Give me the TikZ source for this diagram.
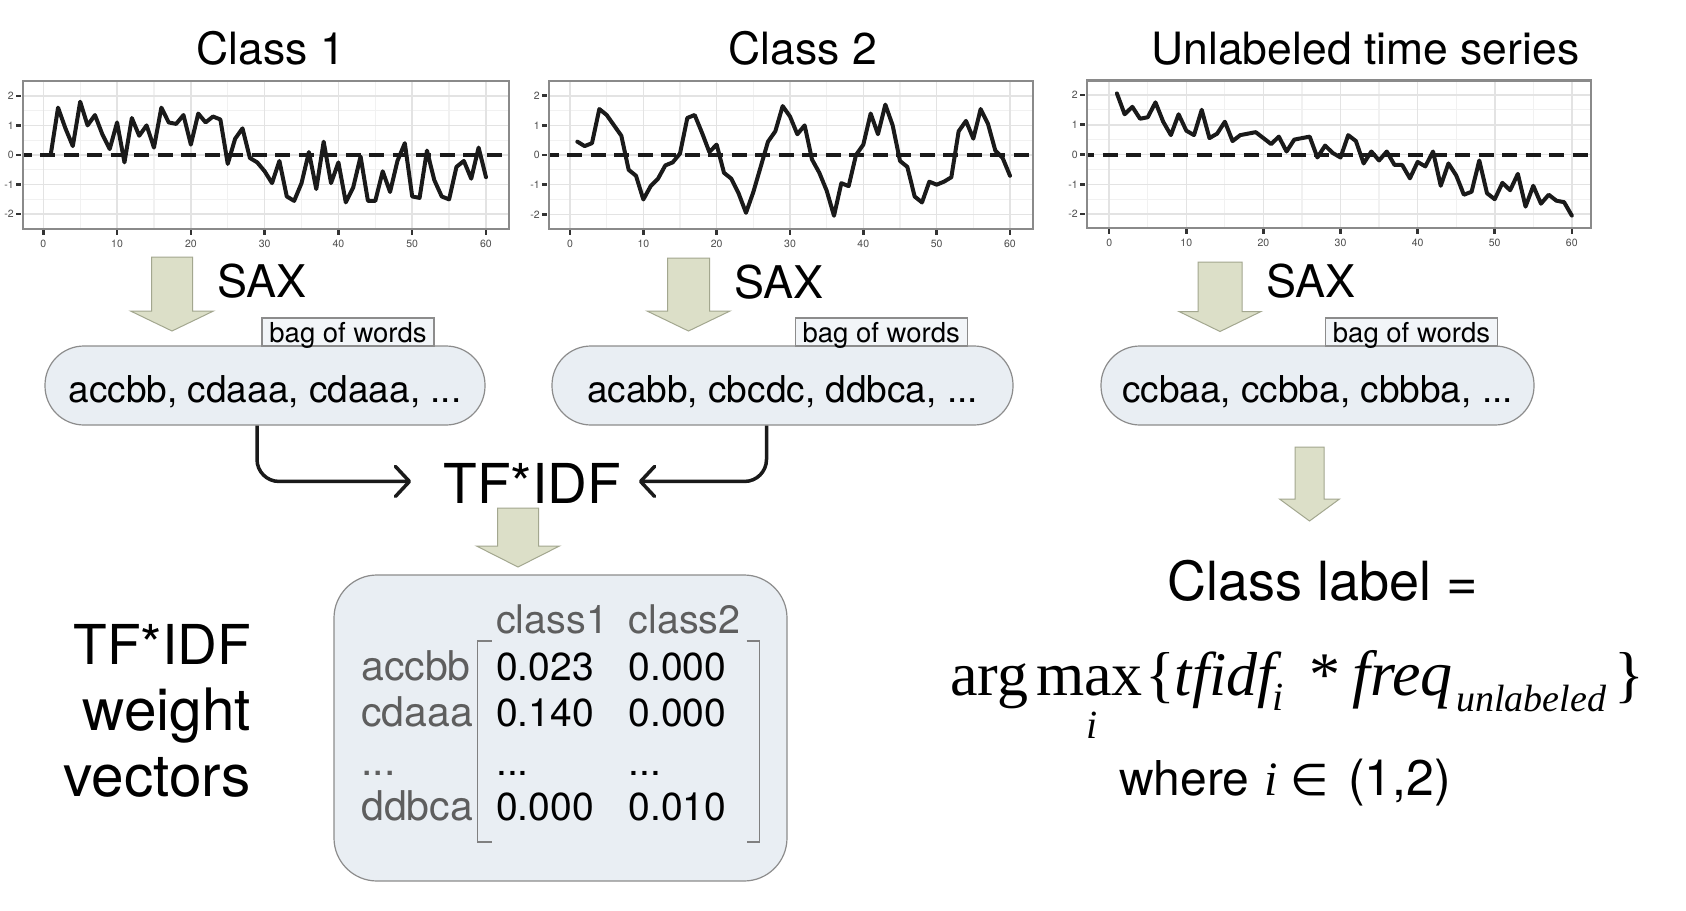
\documentclass[tikz,border=0pt]{standalone}
\usepackage{fontspec}
\setmainfont{TeX Gyre Heros}
\newfontfamily\timesfont{Liberation Serif}
\newfontfamily\dejafont{DejaVu Sans}
\usetikzlibrary{arrows.meta}

\definecolor{pillfill}{HTML}{E9EEF3}
\definecolor{pilldraw}{HTML}{8C8C8C}
\definecolor{arrfill}{HTML}{DCDFC8}
\definecolor{arrdraw}{HTML}{A3A78F}
\definecolor{gridmaj}{HTML}{E3E3E3}
\definecolor{gridmin}{HTML}{F1F1F1}
\definecolor{panelborder}{HTML}{8A8A8A}
\definecolor{axistext}{HTML}{4D4D4D}
\definecolor{labelgray}{HTML}{5E5E5E}
\definecolor{linedark}{HTML}{1A1A1A}

\newcommand\fsz[1]{\fontsize{#1}{#1}\selectfont}

\tikzset{
  pill/.style={draw=pilldraw, fill=pillfill, line width=1.2pt, rounded corners=39pt,
    inner sep=0pt, minimum height=79pt, font=\fsz{37}, text height=34pt, text depth=0pt},
  bagbox/.style={draw=pilldraw, fill=pillfill!60!white, line width=1.2pt, inner sep=0pt,
    minimum width=172pt, minimum height=28pt, font=\fsz{27.5}, text height=23pt, text depth=3pt},
  titletext/.style={font=\fsz{44.5}, anchor=base, inner sep=0pt},
  saxtext/.style={font=\fsz{45}, anchor=base west, inner sep=0pt},
  bigtext/.style={font=\fsz{55}, inner sep=0pt},
  matbox/.style={draw=pilldraw, fill=pillfill, line width=1.2pt, rounded corners=43pt, inner sep=0pt},
  mathead/.style={font=\fsz{39.5}, text=labelgray, anchor=base west, inner sep=0pt},
  matval/.style={font=\fsz{39}, anchor=base west, inner sep=0pt},
  matbracket/.style={draw=gray, line width=1.6pt},
  fatarrow/.style={fill=arrfill, draw=arrdraw, line width=1pt, line join=miter},
  conn/.style={draw=linedark, line width=3.5pt, rounded corners=22pt,
    -{Straight Barb[length=14pt,width=30pt,round]}},
  gridmajline/.style={draw=gridmaj, line width=1.6pt},
  gridminline/.style={draw=gridmin, line width=1.2pt},
  zeroline/.style={draw=linedark, line width=4pt, dash pattern=on 15pt off 8.5pt},
  tsline/.style={draw=linedark, line width=4pt, line join=round, line cap=round},
  panelframe/.style={draw=panelborder, line width=2.4pt},
  tickmark/.style={draw=black!80, line width=2.5pt},
  ticklabel/.style={font=\fsz{10.5}, text=axistext, inner sep=0pt},
  formtext/.style={font=\timesfont\fsz{62}, anchor=base west, inner sep=0pt},
  formsub/.style={font=\timesfont\itshape\fsz{40}, inner sep=0pt},
  sanstext/.style={font=\fsz{48}, anchor=base west, inner sep=0pt},
}

% #1 left #2 right #3 top #4 bottom #5 x0 #6 xs #7 y0 #8 ys #9 data
\newcommand\tspanel[9]{%
  \fill[white] (#1,#3) rectangle (#2,#4);
  \begin{scope}
    \clip (#1,#3) rectangle (#2,#4);
    \begin{scope}[shift={(#5,#7)}, x=#6pt, y=#8pt]
      \foreach \gx in {-5,5,...,65} \draw[gridminline] (\gx,-3) -- (\gx,3);
      \foreach \gv in {-2.5,-1.5,...,2.5} \draw[gridminline] (-10,\gv) -- (70,\gv);
      \foreach \gx in {0,10,...,60} \draw[gridmajline] (\gx,-3) -- (\gx,3);
      \foreach \gv in {-2,...,2} \draw[gridmajline] (-10,\gv) -- (70,\gv);
      \draw[zeroline] (-10,0) -- (70,0);
      \draw[tsline] plot coordinates {#9};
    \end{scope}
  \end{scope}
  \draw[panelframe] (#1,#3) rectangle (#2,#4);
  \begin{scope}[shift={(#1,#7)}, y=#8pt]
    \foreach \gv in {-2,...,2} {
      \draw[tickmark] (-7,\gv) -- (-2,\gv);
      \node[ticklabel, anchor=east] at (-9,\gv) {\gv};
    }
  \end{scope}
  \begin{scope}[shift={(#5,#4)}, x=#6pt]
    \foreach \gx in {0,10,...,60} {
      \draw[tickmark] (\gx,1) -- (\gx,6);
      \node[ticklabel] at (\gx,15) {\gx};
    }
  \end{scope}
}

% #1 cx #2 top #3 headtop #4 tip #5 shaft half #6 head half
\newcommand\fatdown[6]{%
  \filldraw[fatarrow] (#1-#5,#2) -- (#1+#5,#2) -- (#1+#5,#3) -- (#1+#6,#3)
    -- (#1,#4) -- (#1-#6,#3) -- (#1-#5,#3) -- cycle;
}

\begin{document}
\begin{tikzpicture}[x=1pt, y=-1pt]
\useasboundingbox (0,0) rectangle (1686,910);
\fill[white] (0,0) rectangle (1686,910);

% ---------- titles ----------
\node[titletext] (t1) at (271,64) {Class 1};
\node[titletext] (t2) at (803,64) {Class 2};
\node[titletext] (t3) at (1365.5,64) {Unlabeled time series};

% ---------- time series panels ----------
\tspanel{23}{509}{81}{229}{43.3}{7.378}{155}{29.6}{(1,0) (2,1.6) (3,0.9) (4,0.3) (5,1.8) (6,1.0) (7,1.35) (8,0.7) (9,0.2) (10,1.1) (11,-0.25) (12,1.25) (13,0.65) (14,1.0) (15,0.25) (16,1.6) (17,1.1) (18,1.05) (19,1.35) (20,0.35) (21,1.4) (22,1.1) (23,1.3) (24,1.2) (25,-0.3) (26,0.55) (27,0.9) (28,-0.1) (29,-0.25) (30,-0.55) (31,-0.95) (32,-0.2) (33,-1.4) (34,-1.55) (35,-0.95) (36,0.1) (37,-1.15) (38,0.45) (39,-0.95) (40,-0.25) (41,-1.6) (42,-1.1) (43,-0.05) (44,-1.55) (45,-1.55) (46,-0.55) (47,-1.25) (48,-0.2) (49,0.4) (50,-1.4) (51,-1.45) (52,0.15) (53,-0.85) (54,-1.4) (55,-1.5) (56,-0.4) (57,-0.2) (58,-0.8) (59,0.25) (60,-0.75)}

\tspanel{549}{1032.7}{81}{229}{570}{7.333}{155}{29.65}{(1,0.45) (2,0.3) (3,0.4) (4,1.55) (5,1.35) (6,1.0) (7,0.65) (8,-0.5) (9,-0.7) (10,-1.5) (11,-1.05) (12,-0.8) (13,-0.35) (14,-0.25) (15,0.05) (16,1.25) (17,1.35) (18,0.75) (19,0.1) (20,0.35) (21,-0.6) (22,-0.8) (23,-1.3) (24,-1.95) (25,-1.25) (26,-0.4) (27,0.45) (28,0.8) (29,1.65) (30,1.3) (31,0.7) (32,1.0) (33,-0.15) (34,-0.6) (35,-1.2) (36,-2.05) (37,-0.95) (38,-1.05) (39,0.0) (40,0.35) (41,1.4) (42,0.7) (43,1.7) (44,1.0) (45,-0.2) (46,-0.4) (47,-1.4) (48,-1.6) (49,-0.9) (50,-1.0) (51,-0.9) (52,-0.75) (53,0.8) (54,1.15) (55,0.55) (56,1.55) (57,1.05) (58,0.15) (59,-0.1) (60,-0.7)}

\tspanel{1087}{1591}{80.5}{228}{1109.2}{7.71}{154.5}{29.8}{(1,2.05) (2,1.35) (3,1.6) (4,1.2) (5,1.25) (6,1.75) (7,1.1) (8,0.65) (9,1.35) (10,0.8) (11,0.65) (12,1.5) (13,0.55) (14,0.7) (15,1.1) (16,0.45) (17,0.65) (18,0.7) (19,0.75) (20,0.55) (21,0.35) (22,0.6) (23,0.1) (24,0.5) (25,0.55) (26,0.6) (27,-0.1) (28,0.3) (29,0.05) (30,-0.1) (31,0.65) (32,0.45) (33,-0.3) (34,0.1) (35,-0.2) (36,0.1) (37,-0.35) (38,-0.35) (39,-0.8) (40,-0.25) (41,-0.4) (42,0.1) (43,-1.05) (44,-0.3) (45,-0.7) (46,-1.35) (47,-1.25) (48,-0.2) (49,-1.3) (50,-1.5) (51,-0.95) (52,-1.2) (53,-0.65) (54,-1.75) (55,-1.05) (56,-1.65) (57,-1.35) (58,-1.55) (59,-1.6) (60,-2.05)}

% ---------- SAX arrows ----------
\fatdown{172}{257}{311}{331}{20.5}{41.5}
\fatdown{688.5}{258}{311}{331}{21}{41.5}
\fatdown{1220}{262}{311.5}{331.5}{22}{41}
\node[saxtext] (sax1) at (217.5,297.7) {SAX};
\node[saxtext] (sax2) at (734,298) {SAX};
\node[saxtext] (sax3) at (1266,297) {SAX};

% ---------- bags of words ----------
\node[pill, minimum width=440pt] (bag1) at (265,385.5) {accbb, cdaaa, cdaaa, ...};
\node[pill, minimum width=461pt] (bag2) at (782.5,385.5) {acabb, cbcdc, ddbca, ...};
\node[pill, minimum width=433pt] (bag3) at (1317.5,385.5) {ccbaa, ccbba, cbbba, ...};
\node[bagbox] (bw1) at (348,332) {bag of words};
\node[bagbox] (bw2) at (881.2,332) {bag of words};
\node[bagbox] (bw3) at (1411.5,332) {bag of words};

% ---------- TF*IDF ----------
\node[bigtext, anchor=base] (tfidf) at (532,503) {TF*IDF};
\draw[conn] ([xshift=-8pt]bag1.south) |- ([xshift=-32pt,yshift=1.5pt]tfidf.west);
\draw[conn] ([xshift=-16pt]bag2.south) |- ([xshift=18pt,yshift=1.5pt]tfidf.east);
\fatdown{518}{508}{546}{567}{20.5}{41.5}

% ---------- weight table ----------
\node[matbox, minimum width=453pt, minimum height=306pt] (tbl) at (560.5,728) {};
\node[mathead] (h1) at (496,633) {class1};
\node[mathead] (h2) at (628.5,633) {class2};
\node[mathead, font=\fsz{41}] (r1) at (361,680) {accbb};
\node[mathead, font=\fsz{41}] (r2) at (361,726.7) {cdaaa};
\node[mathead, font=\fsz{41}] (r3) at (361,775) {...};
\node[mathead, font=\fsz{41}] (r4) at (361,820) {ddbca};
\node[matval] (v11) at (496,680) {0.023};
\node[matval] (v12) at (628.5,680) {0.000};
\node[matval] (v21) at (496,726.7) {0.140};
\node[matval] (v22) at (628.5,726.7) {0.000};
\node[matval] (v31) at (496,775) {...};
\node[matval] (v32) at (628.5,775) {...};
\node[matval] (v41) at (496,820) {0.000};
\node[matval] (v42) at (628.5,820) {0.010};
\draw[matbracket] (491.7,641) -| (477.3,841.7) -- (491.7,841.7);
\draw[matbracket] (746.7,641) -| (759.3,841.7) -- (746.7,841.7);

\node[bigtext, anchor=base east] (wv1) at (251,664) {TF*IDF};
\node[bigtext, font=\fsz{58.5}, anchor=base east] (wv2) at (251,730) {weight};
\node[bigtext, font=\fsz{58.5}, anchor=base east] (wv3) at (251,796) {vectors};

% ---------- classification ----------
\fatdown{1309.5}{447}{499}{521}{14.5}{30}
\node[font=\fsz{54}, anchor=base west, inner sep=0pt] (cl) at (1167,600) {Class label =};
\node[formtext] (argmax) at (950,695) {arg\hspace{8pt}max};
\node[formsub, anchor=base] (argi) at (1092,738) {i};
\node[formtext] (lbr) at (1145,695) {\{\textit{tfidf}};
\node[formsub, anchor=base west] (subi) at (1272,710) {i};
\node[formtext] (star) at (1309,695) {*};
\node[formtext, font=\timesfont\fsz{64}] (freq) at (1352,695) {\textit{freq}};
\node[formsub, font=\timesfont\itshape\fsz{38}, anchor=base west] (subu) at (1456,711) {unlabeled};
\node[formtext] (rbr) at (1614,695) {\}};
\node[sanstext] (where) at (1119,795) {where};
\node[formtext, font=\timesfont\itshape\fsz{48}] (wi) at (1264,795) {i};
\node[sanstext, font=\dejafont\fsz{44}] (elem) at (1290,795) {∈};
\node[sanstext, font=\fsz{50}] (rng) at (1348,795) {(1,2)};
\end{tikzpicture}
\end{document}
